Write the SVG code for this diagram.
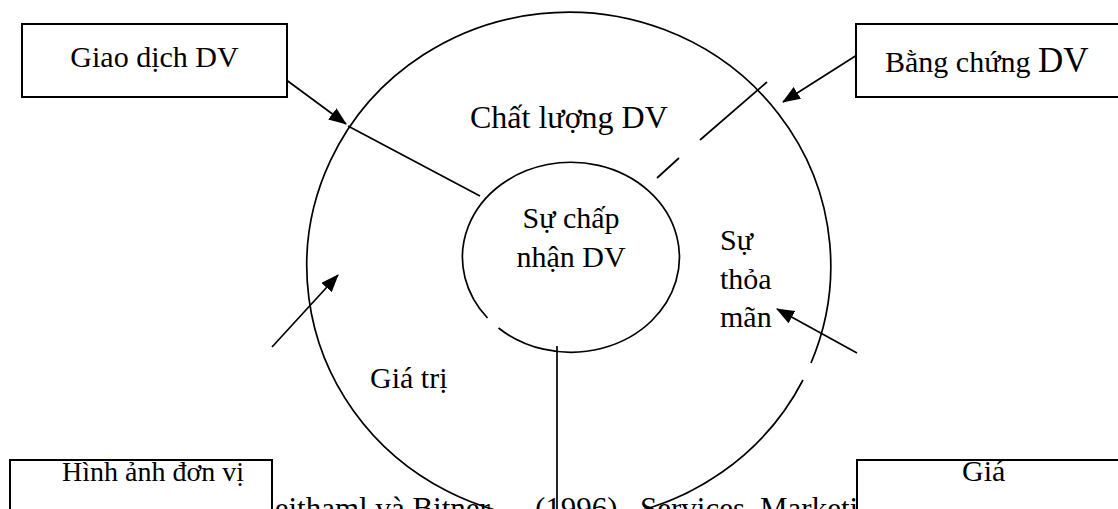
<svg xmlns="http://www.w3.org/2000/svg" width="1118" height="509" viewBox="0 0 1118 509">
<style>
text{font-family:"Liberation Serif","Times New Roman",serif;font-size:30px;fill:#000}
.box rect{fill:#fff;stroke:#000;stroke-width:2}
.ring{fill:none;stroke:#000;stroke-width:1.7}
#connectors line{stroke:#000;stroke-width:1.7}
</style>
<defs>
<marker id="arr" viewBox="0 0 18 14" refX="17" refY="7" markerWidth="18" markerHeight="14" markerUnits="userSpaceOnUse" orient="auto">
<path d="M0 0 L18 7 L0 14 Z" fill="#000"/>
</marker>
</defs>
<text id="source" y="519" style="font-size:31px"><tspan x="155">Nguồn: Zeithaml và Bitner</tspan><tspan x="535">(1996),</tspan><tspan x="640">Services</tspan><tspan x="760">Marketing</tspan></text>
<g id="outer">
<path class="ring" d="M811 363 A262 254 0 1 0 803 380"/>
<text x="470" y="128" style="font-size:32px">Chất lượng DV</text>
<text x="370" y="388">Giá trị</text>
<text x="720" y="250">Sự</text>
<text x="720" y="289">thỏa</text>
<text x="720" y="327">mãn</text>
</g>
<g id="inner">
<path class="ring" d="M487.5 318 A108.5 95 0 1 1 498.5 328"/>
<text x="571" y="228" text-anchor="middle">Sự chấp</text>
<text x="571" y="267" text-anchor="middle">nhận DV</text>
</g>
<g id="connectors">
<line x1="285" y1="79" x2="346" y2="124" marker-end="url(#arr)"/>
<line x1="348" y1="126" x2="480" y2="196"/>
<line x1="857" y1="55" x2="783" y2="102" marker-end="url(#arr)"/>
<line x1="767" y1="82" x2="700" y2="140"/>
<line x1="679" y1="158" x2="657" y2="178"/>
<line x1="272" y1="347" x2="338" y2="275" marker-end="url(#arr)"/>
<line x1="857" y1="353" x2="777" y2="309" marker-end="url(#arr)"/>
<line x1="557" y1="346" x2="557" y2="509"/>
</g>
<g id="giao-dich" class="box">
<rect x="22" y="24" width="265" height="73"/>
<text x="154.5" y="67" text-anchor="middle">Giao dịch DV</text>
</g>
<g id="bang-chung" class="box">
<rect x="856" y="24" width="264" height="73"/>
<text x="885" y="72">Bằng chứng <tspan style="font-size:35px">DV</tspan></text>
</g>
<g id="hinh-anh" class="box">
<rect x="10" y="460" width="262" height="60"/>
<text x="62" y="481" style="font-size:28px">Hình ảnh đơn vị</text>
</g>
<g id="gia" class="box">
<rect x="857" y="460" width="263" height="60"/>
<text x="962" y="481">Giá</text>
</g>
</svg>
